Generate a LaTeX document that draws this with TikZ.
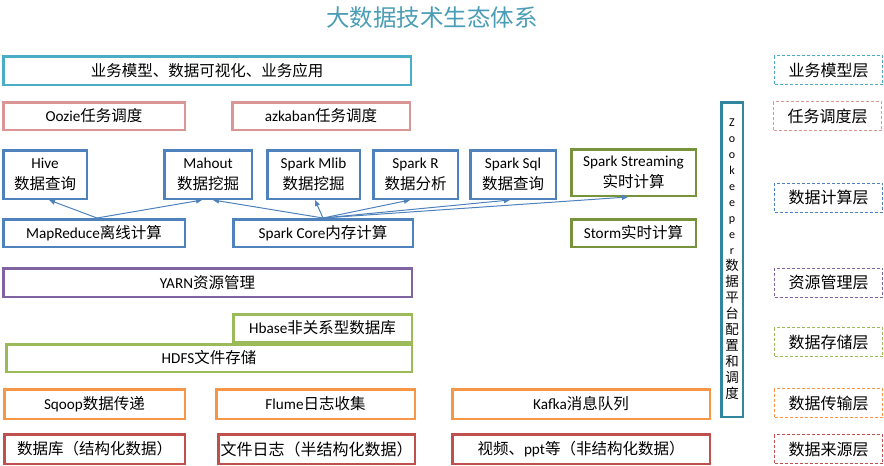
\documentclass[tikz,border=0pt]{standalone}
\usepackage{fontspec}
\setmainfont{Carlito}
\newfontfamily\cjkfont{Noto Sans CJK SC}
\usetikzlibrary{arrows.meta,calc}
\newcommand\zh[1]{{\fontsize{15.5}{20}\cjkfont #1}}
\definecolor{cBiz}{HTML}{4BACC6}
\definecolor{cTask}{HTML}{D99694}
\definecolor{cComp}{HTML}{4F81BD}
\definecolor{cOlive}{HTML}{77933C}
\definecolor{cRes}{HTML}{8064A2}
\definecolor{cStore}{HTML}{9BBB59}
\definecolor{cTrans}{HTML}{F79646}
\definecolor{cSrc}{HTML}{C0504D}
\definecolor{cZk}{HTML}{31859C}
\definecolor{cTitle}{HTML}{4A9DB5}
\tikzset{
  box/.style={draw, line width=2.5pt, inner sep=0pt, align=center, font=\fontsize{15.2}{20.5}\selectfont},
  layer/.style={draw, line width=1pt, dash pattern=on 3pt off 2pt, inner sep=0pt,
    minimum width=108pt, minimum height=29pt},
  flow/.style={draw=cComp, line width=1pt, -{Triangle[length=6pt,width=5pt]}},
}
\begin{document}
\begin{tikzpicture}[x=1pt,y=-1pt]
\useasboundingbox (0,0) rectangle (884,466);
% title
\node[text=cTitle, font=\fontsize{23.5}{26}\cjkfont] (title) at (432,18) {大数据技术生态体系};
% business
\node[box, draw=cBiz, minimum width=407.5pt, minimum height=28.5pt] (biz) at (207,70.5) {\zh{业务模型、数据可视化、业务应用}};
% task
\node[box, draw=cTask, minimum width=181.5pt, minimum height=27.5pt] (oozie) at (94,116) {Oozie\zh{任务调度}};
\node[box, draw=cTask, minimum width=177.5pt, minimum height=27.5pt] (azkaban) at (321,116) {azkaban\zh{任务调度}};
% compute
\node[box, draw=cComp, minimum width=83.5pt, minimum height=48.5pt] (hive) at (45,174.5) {Hive\\\zh{数据查询}};
\node[box, draw=cComp, minimum width=87.5pt, minimum height=48.5pt] (mahout) at (208,174.5) {Mahout\\\zh{数据挖掘}};
\node[box, draw=cComp, minimum width=92.5pt, minimum height=48.5pt] (mlib) at (313.5,174.5) {Spark Mlib\\\zh{数据挖掘}};
\node[box, draw=cComp, minimum width=84.5pt, minimum height=48.5pt] (sparkr) at (415.5,174.5) {Spark R\\\zh{数据分析}};
\node[box, draw=cComp, minimum width=85.5pt, minimum height=48.5pt] (sql) at (513,174.5) {Spark Sql\\\zh{数据查询}};
\node[box, draw=cOlive, minimum width=124.5pt, minimum height=46.5pt] (streaming) at (633.5,172.5) {Spark Streaming\\\zh{实时计算}};
\node[box, draw=cComp, minimum width=181.5pt, minimum height=27.5pt] (mapreduce) at (94,233) {MapReduce\zh{离线计算}};
\node[box, draw=cComp, minimum width=179.5pt, minimum height=27.5pt] (sparkcore) at (323,233) {Spark Core\zh{内存计算}};
\node[box, draw=cOlive, minimum width=124.5pt, minimum height=27.5pt] (storm) at (633.5,233) {Storm\zh{实时计算}};
% resource
\node[box, draw=cRes, minimum width=408.5pt, minimum height=28.5pt] (yarn) at (207.5,282.5) {YARN\zh{资源管理}};
% storage
\node[box, draw=cStore, minimum width=178.5pt, minimum height=27.5pt] (hbase) at (322.5,328) {Hbase\zh{非关系型数据库}};
\node[box, draw=cStore, minimum width=405.5pt, minimum height=27.5pt] (hdfs) at (209,358) {HDFS\zh{文件存储}};
% transport
\node[box, draw=cTrans, minimum width=180.5pt, minimum height=29.5pt] (sqoop) at (94.5,404) {Sqoop\zh{数据传递}};
\node[box, draw=cTrans, minimum width=198.5pt, minimum height=29.5pt] (flume) at (315.5,404) {Flume\zh{日志收集}};
\node[box, draw=cTrans, minimum width=257.5pt, minimum height=29.5pt] (kafka) at (581,404) {Kafka\zh{消息队列}};
% source
\node[box, draw=cSrc, minimum width=180.5pt, minimum height=29.5pt] (db) at (94.5,449) {\zh{数据库（结构化数据）}};
\node[box, draw=cSrc, minimum width=196.5pt, minimum height=29.5pt] (logs) at (316.5,449) {{\fontsize{16}{20}\cjkfont 文件日志（半结构化数据）}};
\node[box, draw=cSrc, minimum width=257.5pt, minimum height=29.5pt] (video) at (581,449) {\zh{视频、}ppt\zh{等（非结构化数据）}};
% zookeeper
\node[box, draw=cZk, minimum width=21.5pt, minimum height=314.5pt,
  font=\fontsize{12}{16}\selectfont] (zk) at (732,259.5)
  {Z\\o\\o\\k\\e\\e\\p\\e\\r\\{\fontsize{13.5}{16}\cjkfont 数}\\{\fontsize{13.5}{16}\cjkfont 据}\\{\fontsize{13.5}{16}\cjkfont 平}\\{\fontsize{13.5}{16}\cjkfont 台}\\{\fontsize{13.5}{16}\cjkfont 配}\\{\fontsize{13.5}{16}\cjkfont 置}\\{\fontsize{13.5}{16}\cjkfont 和}\\{\fontsize{13.5}{16}\cjkfont 调}\\{\fontsize{13.5}{16}\cjkfont 度}};
% layer labels
\tikzset{lt/.style={font=\fontsize{16}{18}\cjkfont}}
\node[layer, draw=cBiz, lt] (l1) at (828.5,70) {业务模型层};
\node[layer, draw=cTask, lt] (l2) at (827.5,116) {任务调度层};
\node[layer, draw=cComp, lt] (l3) at (828.5,197.5) {数据计算层};
\node[layer, draw=cRes, lt] (l4) at (828.5,282.5) {资源管理层};
\node[layer, draw=cStore, lt] (l5) at (828.5,342) {数据存储层};
\node[layer, draw=cTrans, lt] (l6) at (828.5,403) {数据传输层};
\node[layer, draw=cSrc, lt] (l7) at (828.5,449) {数据来源层};
% arrows
\draw[flow] ($(mapreduce.north)+(3,0)$) -- ($(hive.south)+(4,0)$);
\draw[flow] ($(mapreduce.north)+(3,0)$) -- ($(mahout.south)+(-6,0)$);
\draw[flow] (sparkcore.north) -- ($(mahout.south)+(5,0)$);
\draw[flow] (sparkcore.north) -- ($(mlib.south)+(1.5,0)$);
\draw[flow] (sparkcore.north) -- ($(sparkr.south)+(-5.5,0)$);
\draw[flow] (sparkcore.north) -- ($(sql.south)+(-3,0)$);
\draw[flow] (sparkcore.north) -- ($(streaming.south)+(-5.5,0)$);
\end{tikzpicture}
\end{document}
